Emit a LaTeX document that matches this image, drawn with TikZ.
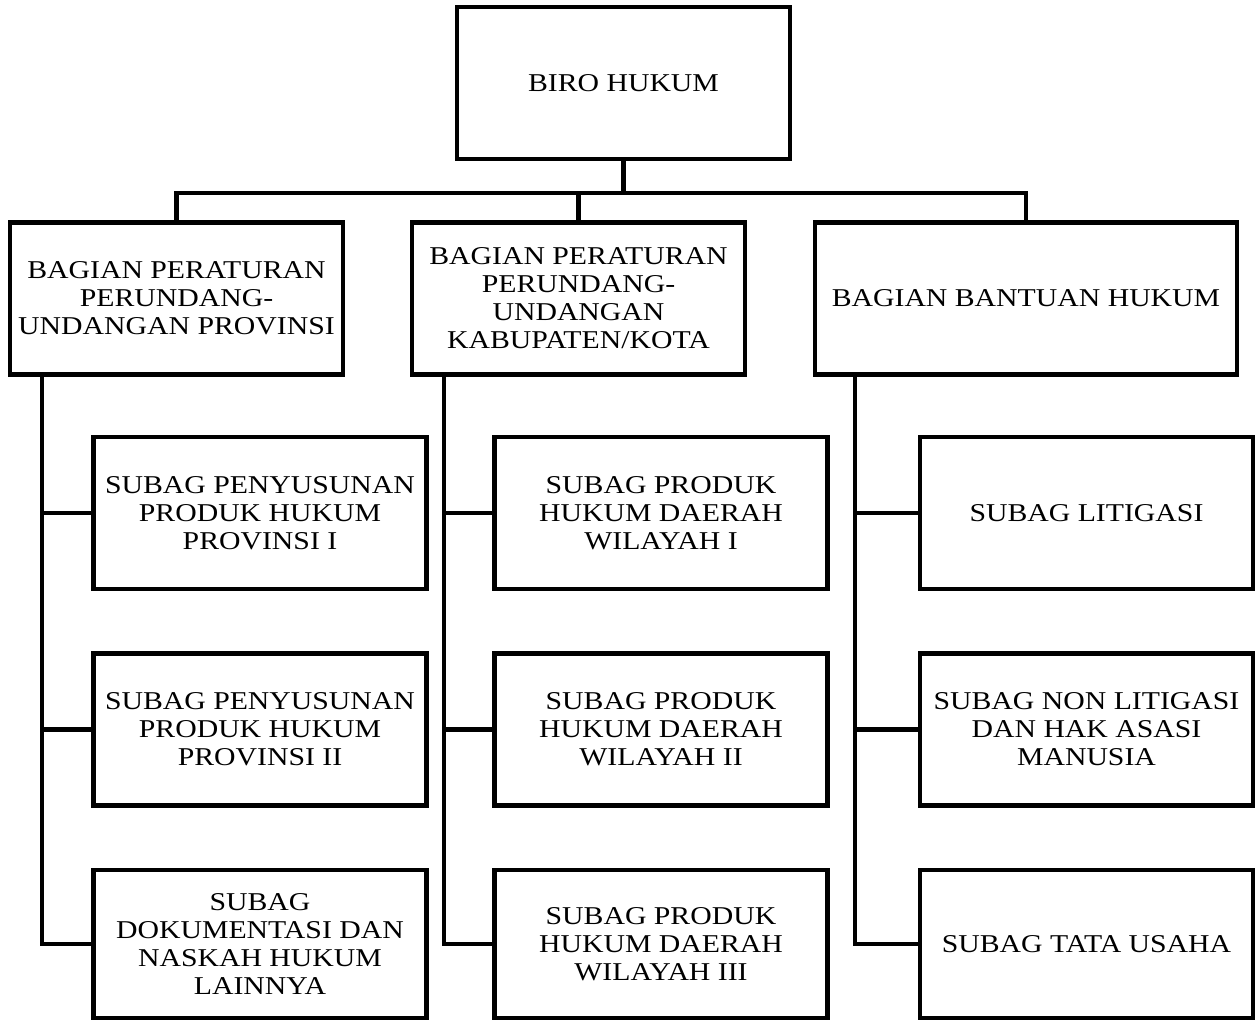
\documentclass[tikz,border=0pt]{standalone}
\usepackage{fontspec}
\setmainfont{Liberation Serif}[FakeStretch=1.16]
\tikzset{
  unit/.style={draw, line width=0.09cm, align=center, inner sep=2pt,
    minimum width=6.66cm, minimum height=3.04cm,
    font=\fontsize{14.6pt}{15.9pt}\selectfont},
  link/.style={line width=0.09cm}
}
\begin{document}
\begin{tikzpicture}[x=0.02cm, y=-0.02cm]
   \useasboundingbox (0,0) rectangle (1256,1021);

   \node[unit] (BH) at (623.5,83)  {BIRO HUKUM};

   \node[unit] (BP) at (176.5,298.5) {BAGIAN PERATURAN\\PERUNDANG-\\UNDANGAN PROVINSI};
   \node[unit] (BK) at (578.5,298.5) {BAGIAN PERATURAN\\PERUNDANG-\\UNDANGAN\\KABUPATEN/KOTA};
   \node[unit, minimum width=8.44cm] (BB) at (1026,298.5) {BAGIAN BANTUAN HUKUM};

   \node[unit] (P1) at (260,513)   {SUBAG PENYUSUNAN\\PRODUK HUKUM\\PROVINSI I};
   \node[unit] (P2) at (260,729.5) {SUBAG PENYUSUNAN\\PRODUK HUKUM\\PROVINSI II};
   \node[unit, minimum height=2.96cm] (P3) at (260,944) {SUBAG\\DOKUMENTASI DAN\\NASKAH HUKUM\\LAINNYA};

   \node[unit] (K1) at (661,513)   {SUBAG PRODUK\\HUKUM DAERAH\\WILAYAH I};
   \node[unit] (K2) at (661,729.5) {SUBAG PRODUK\\HUKUM DAERAH\\WILAYAH II};
   \node[unit, minimum height=2.96cm] (K3) at (661,944) {SUBAG PRODUK\\HUKUM DAERAH\\WILAYAH III};

   \node[unit] (B1) at (1086.5,513)   {SUBAG LITIGASI};
   \node[unit] (B2) at (1086.5,729.5) {SUBAG NON LITIGASI\\DAN HAK ASASI\\MANUSIA};
   \node[unit, minimum height=2.96cm] (B3) at (1086.5,944) {SUBAG TATA USAHA};

   % top level
   \draw[link] (BH.south) -- ++(0,32) coordinate (bus);
   \draw[link] (bus) -| (BP.north);
   \draw[link] (bus) -| (BB.north);
   \draw[link] (bus -| BK.north) -- (BK.north);

   % columns
   \path (BP.south west) ++(34,0) coordinate (cP);
   \path (BK.south west) ++(34,0) coordinate (cK);
   \path (BB.south west) ++(42,0) coordinate (cB);
   \draw[link] (cP) |- (P3.west);
   \draw[link] (cK) |- (K3.west);
   \draw[link] (cB) |- (B3.west);
   \draw[link] (P1.west) -- (P1.west -| cP)
               (P2.west) -- (P2.west -| cP);
   \draw[link] (K1.west) -- (K1.west -| cK)
               (K2.west) -- (K2.west -| cK);
   \draw[link] (B1.west) -- (B1.west -| cB)
               (B2.west) -- (B2.west -| cB);
\end{tikzpicture}
\end{document}
